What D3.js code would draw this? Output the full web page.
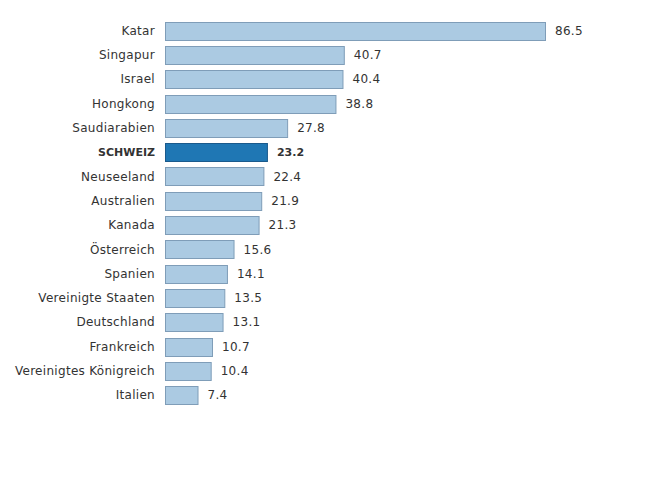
<!DOCTYPE html>
<html><head><meta charset="utf-8">
<script src="https://cdn.jsdelivr.net/npm/d3@7"></script>
<style>body{margin:0;background:#fff}</style>
</head><body>
<svg id="c" width="648" height="482"></svg>
<script>
const categories = ["Katar","Singapur","Israel","Hongkong","Saudiarabien","SCHWEIZ","Neuseeland","Australien","Kanada","Österreich","Spanien","Vereinigte Staaten","Deutschland","Frankreich","Vereinigtes Königreich","Italien"];
const values = [86.5,40.7,40.4,38.8,27.8,23.2,22.4,21.9,21.3,15.6,14.1,13.5,13.1,10.7,10.4,7.4];
const highlight = "SCHWEIZ";

const svg = d3.select("#c");
const x = d3.scaleLinear().domain([0, 86.5]).range([165, 545]);
const y = d3.scaleBand().domain(categories).range([18.5, 18.5 + 16*24.3]).paddingInner(0.26).paddingOuter(0.13);
const data = categories.map((c,i)=>({c, v: values[i]}));
const font = "DejaVu Sans, sans-serif";

svg.selectAll("rect.bar").data(data).join("rect")
  .attr("x", x(0)+0.5)
  .attr("y", d=>Math.round(y(d.c))+0.5)
  .attr("width", d=>x(d.v)-x(0))
  .attr("height", Math.round(y.bandwidth()))
  .attr("fill", d=>d.c===highlight?"#1f77b4":"#abcae2")
  .attr("stroke", d=>d.c===highlight?"#1a5a8c":"#7f9db8")
  .attr("stroke-width", 1);

function styleText(sel){
  sel.attr("font-family", font)
    .attr("font-size", d=>d.c===highlight?11:12)
    .attr("letter-spacing", d=>d.c===highlight?0:0.3)
    .attr("font-weight", d=>d.c===highlight?"bold":"normal")
    .attr("fill","#333");
}

svg.selectAll("text.lab").data(data).join("text")
  .attr("x", 155)
  .attr("y", d=>y(d.c)+y.bandwidth()/2)
  .attr("dy","0.35em")
  .attr("text-anchor","end")
  .call(styleText)
  .text(d=>d.c);

svg.selectAll("text.val").data(data).join("text")
  .attr("x", d=>x(d.v)+10)
  .attr("y", d=>y(d.c)+y.bandwidth()/2)
  .attr("dy","0.35em")
  .call(styleText)
  .text(d=>d3.format(".1f")(d.v));
</script>
</body></html>
